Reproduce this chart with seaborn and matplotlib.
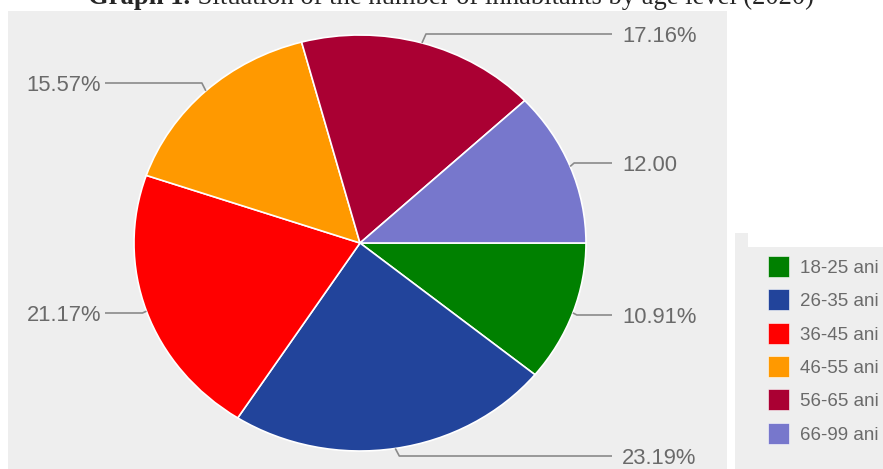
import numpy as np
import matplotlib
matplotlib.use("Agg")
import matplotlib.pyplot as plt
from matplotlib.patches import Rectangle
import seaborn as sns

# Age groups and their share of inhabitants (2020)
age_groups = ["18-25 ani", "26-35 ani", "36-45 ani", "46-55 ani", "56-65 ani", "66-99 ani"]
shares = [10.91, 23.19, 21.17, 15.57, 17.16, 12.00]
label_suffix = ["%", "%", "%", "%", "%", ""]
slice_colors = ["#008000", "#22449b", "#ff0000", "#ff9900", "#aa0033", "#7777cc"]

title_bold = "Graph 1."
title_rest = " Situation of the number of inhabitants by age level (2020)"

sns.set_style("white")
palette = sns.color_palette(slice_colors)
plt.rcParams["font.family"] = ["Liberation Sans", "DejaVu Sans"]

W, H = 883, 469
fig = plt.figure(figsize=(W / 100, H / 100), dpi=100)
fig.patch.set_facecolor("white")

# pie geometry in pixels (slightly wider than tall)
cx, cy, rx, ry = 360, 243, 226, 208


def X(px):
    return (px - cx) / rx


def Y(py):
    return (cy - py) / ry


def fx(px):
    return px / W


def fy(py):
    return (H - py) / H


panel = "#eeeeee"
fig.add_artist(Rectangle((fx(8), fy(469)), (727 - 8) / W, (469 - 11) / H,
                         transform=fig.transFigure, color=panel, zorder=-2, lw=0))
fig.add_artist(Rectangle((fx(735), fy(469)), (748 - 735) / W, (469 - 233) / H,
                         transform=fig.transFigure, color=panel, zorder=-2, lw=0))
fig.add_artist(Rectangle((fx(735), fy(469)), (W - 735) / W, (469 - 247) / H,
                         transform=fig.transFigure, color=panel, zorder=-2, lw=0))

ax = fig.add_axes([0, 0, 1, 1])
ax.pie(shares, colors=palette, startangle=0, counterclock=False,
       wedgeprops=dict(edgecolor="white", linewidth=1.2))
ax.set_aspect("auto")
ax.set_xlim(X(0), X(W))
ax.set_ylim(Y(H), Y(0))
ax.axis("off")

# value labels with leader lines
label_y_px = [315, 456, 313, 83, 34, 163]
label_side = ["r", "r", "l", "l", "r", "r"]
text_col = "#6a6a6a"
line_col = "#8a8a8a"
fracs = np.array(shares) / sum(shares)
cum = np.concatenate([[0], np.cumsum(fracs)[:-1]])
for v, suf, f, c, ly, side in zip(shares, label_suffix, fracs, cum, label_y_px, label_side):
    theta = np.deg2rad(-(c + f / 2) * 360)
    ax_pt = (np.cos(theta), np.sin(theta))
    if side == "r":
        elbow_x = ax_pt[0] + 4 / rx
        end_x = X(612)
        tx, ha = X(622), "left"
    else:
        elbow_x = ax_pt[0] - 4 / rx
        end_x = X(105)
        tx, ha = X(101), "right"
    ax.plot([ax_pt[0], elbow_x, end_x], [ax_pt[1], Y(ly), Y(ly)],
            color=line_col, lw=1.2, solid_capstyle="butt", zorder=3)
    ax.text(tx, Y(ly), f"{v:.2f}{suf}", ha=ha, va="center_baseline",
            fontsize=15.8, color=text_col)

# legend
for i, (name, col) in enumerate(zip(age_groups, palette)):
    top = 256 + i * 33.3
    fig.add_artist(Rectangle((fx(768), fy(top + 21)), 21 / W, 21 / H,
                             transform=fig.transFigure, facecolor=col,
                             edgecolor="white", lw=0.4, zorder=2))
    fig.text(fx(800), fy(top + 10.5), name, ha="left", va="center_baseline",
             fontsize=13.5, color=text_col)

# title: bold prefix followed by regular text, centred as one line
serif = ["Liberation Serif", "DejaVu Serif"]
tb = fig.text(0, fy(4), title_bold, fontsize=19.2, fontweight="bold",
              family=serif, va="baseline", ha="left")
tr = fig.text(0, fy(4), title_rest, fontsize=19.2, family=serif,
              va="baseline", ha="left")
renderer = fig.canvas.get_renderer()
wb = tb.get_window_extent(renderer).width
wr = tr.get_window_extent(renderer).width
x0 = 451 - (wb + wr) / 2
tb.set_x(fx(x0))
tr.set_x(fx(x0 + wb))

fig.savefig("out.png", dpi=100)
